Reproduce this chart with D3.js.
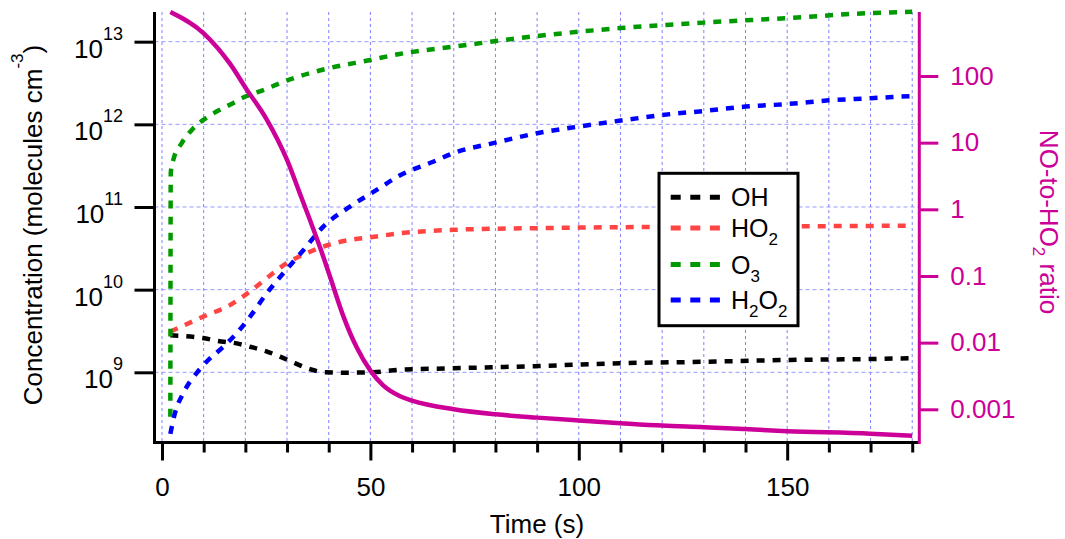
<!DOCTYPE html>
<html>
<head>
<meta charset="utf-8">
<script src="https://cdn.jsdelivr.net/npm/d3@7"></script>
<style>
  body { margin: 0; background: #fff; }
  svg { display: block; }
  text { font-family: "Liberation Sans", Arial, Helvetica, sans-serif; white-space: pre; }
</style>
</head>
<body>
<svg id="chart" width="1065" height="539"></svg>
<script>
// ---- Model output: concentrations (molecules cm^-3) vs time (s) ----
const tOH   = [2, 9.8, 13.4, 17.9, 21.1, 24.7, 28.3, 31.9, 35.5, 39.1, 43.9, 50, 57, 70, 90, 110, 130, 150, 170, 180];
const OH    = [2.8e9, 2.6e9, 2.4e9, 2.24e9, 2.04e9, 1.82e9, 1.55e9, 1.29e9, 1.09e9, 1.0e9, 0.99e9, 1.0e9, 1.07e9, 1.12e9, 1.19e9, 1.29e9, 1.34e9, 1.41e9, 1.45e9, 1.48e9];

const tHO2  = [2, 9.8, 16.3, 21.1, 25.1, 29.9, 34.7, 39.9, 45.1, 50, 57, 70, 90, 110, 130, 150, 170, 180];
const HO2   = [3.1e9, 4.7e9, 6.5e9, 9.5e9, 1.37e10, 2.09e10, 2.76e10, 3.47e10, 4.0e10, 4.3e10, 4.8e10, 5.3e10, 5.55e10, 5.7e10, 5.8e10, 5.85e10, 5.9e10, 5.96e10];

const tO3   = [2, 2.1, 2.7, 4.7, 7.1, 9.9, 13.1, 16.3, 20.3, 24.3, 30.7, 38.7, 50, 57, 70, 90, 110, 130, 150, 170, 180];
const O3    = [2.9e8, 2.6e11, 3.7e11, 5.9e11, 8.5e11, 1.13e12, 1.43e12, 1.73e12, 2.2e12, 2.6e12, 3.5e12, 4.6e12, 6.0e12, 7.1e12, 8.7e12, 1.17e13, 1.46e13, 1.7e13, 1.93e13, 2.22e13, 2.3e13];

const tH2O2 = [2, 3.1, 5.1, 8.3, 11.1, 14.3, 17.9, 21.1, 25.1, 29.1, 33.9, 38.7, 45.1, 51.5, 57, 65.5, 70, 80, 90, 100, 110, 122, 130, 140, 150, 160, 170, 180];
const H2O2  = [1.8e8, 3.2e8, 5.6e8, 9.8e8, 1.41e9, 1.95e9, 2.96e9, 4.7e9, 9.0e9, 1.58e10, 3.0e10, 5.8e10, 1.01e11, 1.61e11, 2.4e11, 3.6e11, 4.5e11, 6.0e11, 7.8e11, 9.4e11, 1.11e12, 1.33e12, 1.45e12, 1.64e12, 1.76e12, 1.95e12, 2.07e12, 2.2e12];

// NO-to-HO2 ratio (right axis)
const tRatio = [2, 10, 16.3, 20.3, 25, 30, 33, 35.5, 38, 40.3, 43.5, 46.7, 50, 53, 57, 60, 70, 80, 90, 100, 110, 120, 130, 150, 170, 180];
const ratio  = [912, 437, 153, 63, 23, 5.5, 1.78, 0.69, 0.26, 0.098, 0.025, 0.0085, 0.0038, 0.0023, 0.00158, 0.00135, 0.001, 0.00084, 0.00075, 0.00068, 0.00062, 0.00057, 0.00054, 0.00047, 0.00043, 0.0004];

// Axis ticks
const timeMajor  = [0, 50, 100, 150];
const timeMinor  = [10, 20, 30, 40, 60, 70, 80, 90, 110, 120, 130, 140, 160, 170, 180];
const timeGrid   = [0, 10, 20, 30, 40, 50, 60, 70, 80, 90, 100, 110, 120, 130, 140, 150, 160, 170, 180];
const concTicks  = [1e9, 1e10, 1e11, 1e12, 1e13];
const concExps   = ["9", "10", "11", "12", "13"];
const ratioTicks = [0.001, 0.01, 0.1, 1, 10, 100];
const ratioLabels = ["0.001", "0.01", "0.1", "1", "10", "100"];

// Legend entries: [text piece, is subscript]
const legendNames  = ["OH", "HO2", "O3", "H2O2"];
const legendPieces = [[["OH", 0]], [["HO", 0], ["2", 1]], [["O", 0], ["3", 1]], [["H", 0], ["2", 1], ["O", 0], ["2", 1]]];

const colOH = "#000000", colHO2 = "#ff4444", colO3 = "#009900", colH2O2 = "#0000ff";
const colRatio = "#cc0099";
const gridCol = "#8080ff";

const svg = d3.select("#chart");
const L = 154.5, R = 919.3, T = 12, B = 442.5;

const x  = d3.scaleLinear().domain([-1.8, 181.7]).range([L, R]);
const y  = d3.scaleLog().domain([Math.pow(10, 8.151), Math.pow(10, 13.359)]).range([B, T]);
const yR = d3.scaleLog().domain([Math.pow(10, -3.498), Math.pow(10, 2.96)]).range([B, T]);

// Grid
const grid = svg.append("g");
grid.selectAll("line.v").data(timeGrid).join("line")
  .attr("x1", d => x(d)).attr("x2", d => x(d)).attr("y1", T).attr("y2", B)
  .attr("stroke", gridCol).attr("stroke-width", 1).attr("stroke-dasharray", "3,3");
grid.selectAll("line.h").data(concTicks).join("line")
  .attr("x1", L).attr("x2", R).attr("y1", d => y(d)).attr("y2", d => y(d))
  .attr("stroke", gridCol).attr("stroke-opacity", 0.8).attr("stroke-width", 1).attr("stroke-dasharray", "4,3");

// Series
const lineL = d3.line().x(d => x(d[0])).y(d => y(d[1])).curve(d3.curveMonotoneX);
const lineR = d3.line().x(d => x(d[0])).y(d => yR(d[1])).curve(d3.curveMonotoneX);
const zip = (a, b) => a.map((v, i) => [v, b[i]]);

const series = [
  [tOH, OH, colOH], [tHO2, HO2, colHO2], [tO3, O3, colO3], [tH2O2, H2O2, colH2O2]
];
series.forEach(([t, v, c]) => {
  svg.append("path").datum(zip(t, v)).attr("d", lineL)
    .attr("fill", "none").attr("stroke", c).attr("stroke-width", 4.5)
    .attr("stroke-dasharray", "8,8");
});
svg.append("path").datum(zip(tRatio, ratio)).attr("d", lineR)
  .attr("fill", "none").attr("stroke", colRatio).attr("stroke-width", 4.5)
  .attr("stroke-linejoin", "round");

// Bottom axis
const gx = svg.append("g").attr("transform", `translate(0,${B})`);
gx.call(d3.axisBottom(x).tickValues(timeMinor).tickSize(10).tickSizeOuter(0).tickFormat(""));
const gx2 = svg.append("g").attr("transform", `translate(0,${B})`);
gx2.call(d3.axisBottom(x).tickValues(timeMajor).tickSize(18).tickSizeOuter(0).tickPadding(17));
gx2.select(".domain").remove();
[gx, gx2].forEach(g => {
  g.selectAll("path,line").attr("stroke", "#000").attr("stroke-width", 3);
});
gx.select(".domain").attr("d", `M${L - 1.5},0H${R}`);
gx2.selectAll("text").attr("font-size", 26).attr("fill", "#000").attr("font-family", null).attr("dy", "0.71em");

// Left axis
const gy = svg.append("g").attr("transform", `translate(${L},0)`);
gy.call(d3.axisLeft(y).tickValues(concTicks).tickSize(20).tickSizeOuter(0).tickFormat(""));
gy.select(".domain").attr("d", `M0,${T}V${B + 1.5}`);
gy.selectAll("path,line").attr("stroke", "#000").attr("stroke-width", 3);
const lab = svg.append("g").attr("font-size", 26).attr("fill", "#000");
concTicks.forEach((v, i) => {
  const tx = lab.append("text").attr("x", 123).attr("y", y(v) + 16).attr("text-anchor", "end");
  tx.append("tspan").text("10");
  tx.append("tspan").attr("dy", -18).attr("font-size", 18).text(concExps[i]);
});

// Right axis
const gr = svg.append("g").attr("transform", `translate(${R},0)`);
gr.call(d3.axisRight(yR).tickValues(ratioTicks).tickSize(19).tickSizeOuter(0).tickPadding(12)
  .tickFormat((d, i) => ratioLabels[i]));
gr.select(".domain").attr("d", `M0,${T}V${B + 1.5}`);
gr.selectAll("path,line").attr("stroke", colRatio).attr("stroke-width", 3);
gr.selectAll("text").attr("font-size", 26).attr("fill", colRatio).attr("font-family", null);

// Axis titles
svg.append("text").attr("x", 537).attr("y", 533).attr("text-anchor", "middle")
  .attr("font-size", 26).attr("fill", "#000").text("Time (s)");

const yt = svg.append("text").attr("transform", "translate(41.5,225) rotate(-90)")
  .attr("text-anchor", "middle").attr("font-size", 26).attr("fill", "#000");
yt.append("tspan").text("Concentration (molecules cm");
yt.append("tspan").attr("dy", -19).attr("font-size", 17).text("-3");
yt.append("tspan").attr("dy", 19).text(")");

const rt = svg.append("text").attr("transform", "translate(1040,222) rotate(90)")
  .attr("text-anchor", "middle").attr("font-size", 26).attr("fill", colRatio);
rt.append("tspan").text("NO-to-HO");
rt.append("tspan").attr("dy", 7).attr("font-size", 17).text("2");
rt.append("tspan").attr("dy", -7).text(" ratio");

// Legend
const lg = svg.append("g");
lg.append("rect").attr("x", 659).attr("y", 173.3).attr("width", 139).attr("height", 152.4)
  .attr("fill", "#fff").attr("stroke", "#000").attr("stroke-width", 3);
const rowsY = [197.3, 228, 264.5, 300];
const legCols = [colOH, colHO2, colO3, colH2O2];
legendNames.forEach((name, i) => {
  lg.append("line").attr("x1", 670.7).attr("x2", 720).attr("y1", rowsY[i]).attr("y2", rowsY[i])
    .attr("stroke", legCols[i]).attr("stroke-width", 5).attr("stroke-dasharray", "10,9.6");
  const tx = lg.append("text").attr("x", 731).attr("y", rowsY[i] + 9).attr("font-size", 25).attr("fill", "#000");
  let low = false;
  legendPieces[i].forEach(([s, sub]) => {
    const sp = tx.append("tspan").text(s);
    if (sub && !low) { sp.attr("dy", 8).attr("font-size", 17); low = true; }
    else if (sub) { sp.attr("font-size", 17); }
    else if (!sub && low) { sp.attr("dy", -8); low = false; }
  });
});
</script>
</body>
</html>
